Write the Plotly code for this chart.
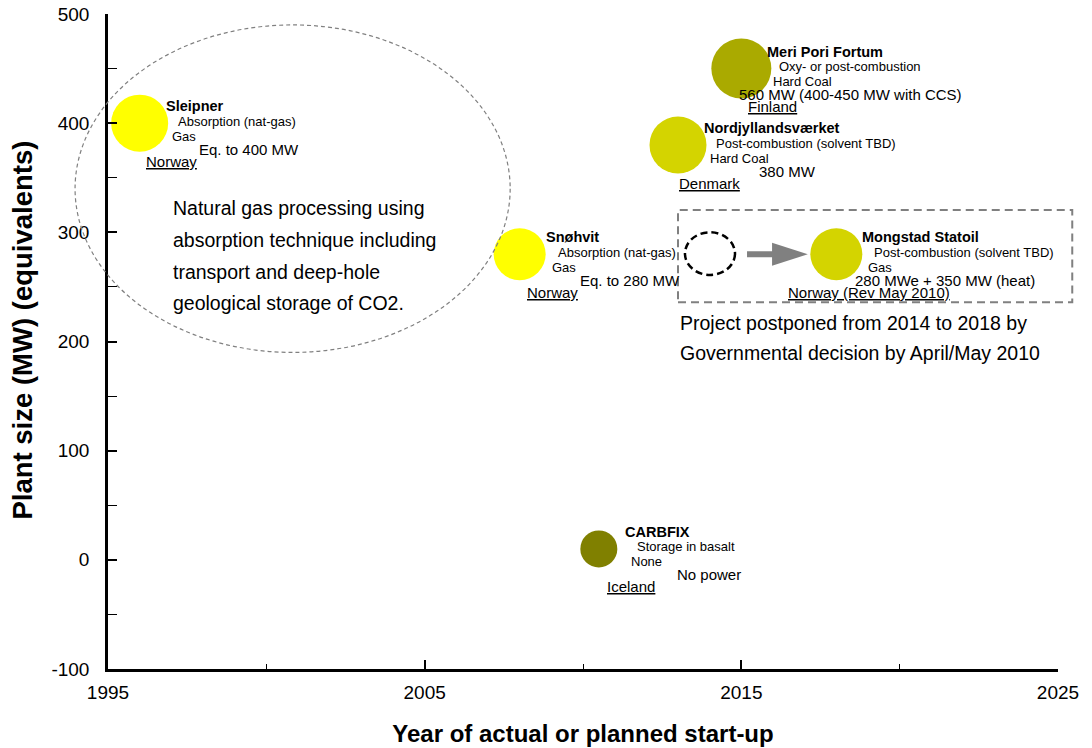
import plotly.graph_objects as go

# CCS projects
projects = ["Sleipner", "Snøhvit", "Nordjyllandsværket", "Meri Pori Fortum",
            "Mongstad Statoil", "CARBFIX"]
start_year = [1996, 2008, 2013, 2015, 2018, 2010.5]
plant_mw = [400, 280, 380, 450, 280, 10]
process = ["Absorption (nat-gas)", "Absorption (nat-gas)",
           "Post-combustion (solvent TBD)", "Oxy- or post-combustion",
           "Post-combustion (solvent TBD)", "Storage in basalt"]
fuel = ["Gas", "Gas", "Hard Coal", "Hard Coal", "Gas", "None"]
capacity = ["Eq. to 400 MW", "Eq. to 280 MW", "380 MW",
            "560 MW (400-450 MW with CCS)", "280 MWe + 350 MW (heat)", "No power"]
country = ["Norway", "Norway", "Denmark", "Finland", "Norway (Rev May 2010)", "Iceland"]

# Mongstad: original start-up year before it was postponed
mongstad_old_year = 2014
mongstad_mw = 280

sleipner_note = ["Natural gas processing using", "absorption technique including",
                 "transport and deep-hole", "geological storage of CO2."]
mongstad_note = ["Project postponed from 2014 to 2018 by",
                 "Governmental decision by April/May 2010"]

x_ticks = [1995, 2005, 2015, 2025]
y_ticks = [-100, 0, 100, 200, 300, 400, 500]
y_tick_text = ["-100", "0", "100", "200", "300", "400", "500"]

# styling
FONT = "Arial, Liberation Sans, sans-serif"
bubble_colors = ["#FFFF00", "#FFFF00", "#D4D400", "#AAAA00", "#D4D400", "#808000"]
bubble_px = [57, 52, 57, 60, 52, 37]
cap_dx = [57, 58, 79, -4, 17, 76]
country_dx = [4, 5, -1, 5, -50, 6]

X_RANGE = [1995, 2025]
Y_RANGE = [-100, 500]


def px(v):
    return (v - X_RANGE[0]) / (X_RANGE[1] - X_RANGE[0])


def py(v):
    return (v - Y_RANGE[0]) / (Y_RANGE[1] - Y_RANGE[0])


fig = go.Figure()

fig.add_trace(go.Scatter(
    x=start_year, y=plant_mw, mode="markers",
    marker=dict(size=bubble_px, color=bubble_colors, opacity=1, line=dict(width=0)),
    text=projects, hoverinfo="text", showlegend=False,
))

annotations = []
for i, name in enumerate(projects):
    rows = [
        (f"<b>{name}</b>", 14.5, 24, 17),
        (process[i], 13, 36, 2),
        (fuel[i], 13, 30, -13),
        (capacity[i], 15, cap_dx[i], -26),
        (f"<u>{country[i]}</u>", 15, country_dx[i], -38),
    ]
    for txt, size, dx, dy in rows:
        annotations.append(dict(
            x=start_year[i], y=plant_mw[i], xref="x", yref="y",
            text=txt, showarrow=False, xanchor="left", yanchor="middle",
            xshift=dx, yshift=dy, font=dict(family=FONT, size=size, color="black"),
        ))

for k, line in enumerate(sleipner_note):
    annotations.append(dict(
        x=1997, y=322 - 29 * k, xref="x", yref="y", text=line, showarrow=False,
        xanchor="left", yanchor="middle", font=dict(family=FONT, size=19.5, color="black"),
    ))

for k, line in enumerate(mongstad_note):
    annotations.append(dict(
        x=2013, y=217 - 27.5 * k, xref="x", yref="y", text=line, showarrow=False,
        xanchor="left", yanchor="middle", font=dict(family=FONT, size=19.5, color="black"),
    ))

# y axis title, placed by hand so it sits a little above the plot centre
annotations.append(dict(
    x=0, y=py(210), xref="paper", yref="paper", xshift=-85,
    text="<b>Plant size (MW) (equivalents)</b>", textangle=-90, showarrow=False,
    xanchor="center", yanchor="middle", borderpad=0,
    font=dict(family=FONT, size=27.5, color="black"),
))

shapes = [
    # ellipse around the gas-processing note (runs past the y axis)
    dict(type="circle", xref="paper", yref="paper",
         x0=px(1993.96), x1=px(2007.7), y0=py(190), y1=py(490),
         line=dict(color="#808080", width=1.2, dash="4px,3px")),
    # box around Mongstad postponement
    dict(type="rect", xref="paper", yref="paper",
         x0=px(2013.0), x1=px(2025.45), y0=py(236), y1=py(320.5),
         line=dict(color="#808080", width=2, dash="8px,5px")),
    # old Mongstad position
    dict(type="circle", xref="x", yref="y",
         x0=mongstad_old_year - 0.78, x1=mongstad_old_year + 0.8,
         y0=mongstad_mw - 19, y1=mongstad_mw + 20,
         line=dict(color="black", width=2.5, dash="7px,4px")),
    # arrow shaft
    dict(type="line", xref="x", yref="y", x0=2015.18, x1=2016.2,
         y0=mongstad_mw, y1=mongstad_mw, line=dict(color="#808080", width=6)),
    # arrow head
    dict(type="path", xref="x", yref="y",
         path=f"M 2015.97,{mongstad_mw + 10.5} L 2017.1,{mongstad_mw} "
              f"L 2015.97,{mongstad_mw - 10.5} Z",
         fillcolor="#808080", line=dict(width=0)),
]

# the page body adds an 8px margin, so the figure is shifted by that much
fig.update_layout(
    width=1084, height=740,
    margin=dict(l=100, r=34, t=6, b=79),
    paper_bgcolor="white", plot_bgcolor="white",
    font=dict(family=FONT, color="black"),
    annotations=annotations, shapes=shapes,
    showlegend=False,
)

fig.update_xaxes(
    range=X_RANGE, tickvals=x_ticks, showgrid=False, zeroline=False, automargin=False,
    showline=True, linecolor="black", linewidth=2.5,
    ticks="inside", ticklen=9, tickwidth=1.5, tickcolor="black",
    minor=dict(ticks="inside", ticklen=5, tickwidth=1, tickcolor="black", dtick=5, tick0=1995),
    tickfont=dict(family=FONT, size=19), ticklabelstandoff=4, ticklabeloverflow="allow",
    title=dict(text="<b>Year of actual or planned start-up</b>",
               font=dict(family=FONT, size=24), standoff=24),
)
fig.update_yaxes(
    range=Y_RANGE, tickvals=y_ticks, ticktext=y_tick_text,
    showgrid=False, zeroline=False, automargin=False,
    showline=True, linecolor="black", linewidth=2.5,
    ticks="inside", ticklen=9, tickwidth=1.5, tickcolor="black",
    minor=dict(ticks="inside", ticklen=9, tickwidth=1, tickcolor="black", dtick=50, tick0=-100),
    tickfont=dict(family=FONT, size=19), ticklabelstandoff=12, ticklabeloverflow="allow",
)

fig.write_html("out.html")
